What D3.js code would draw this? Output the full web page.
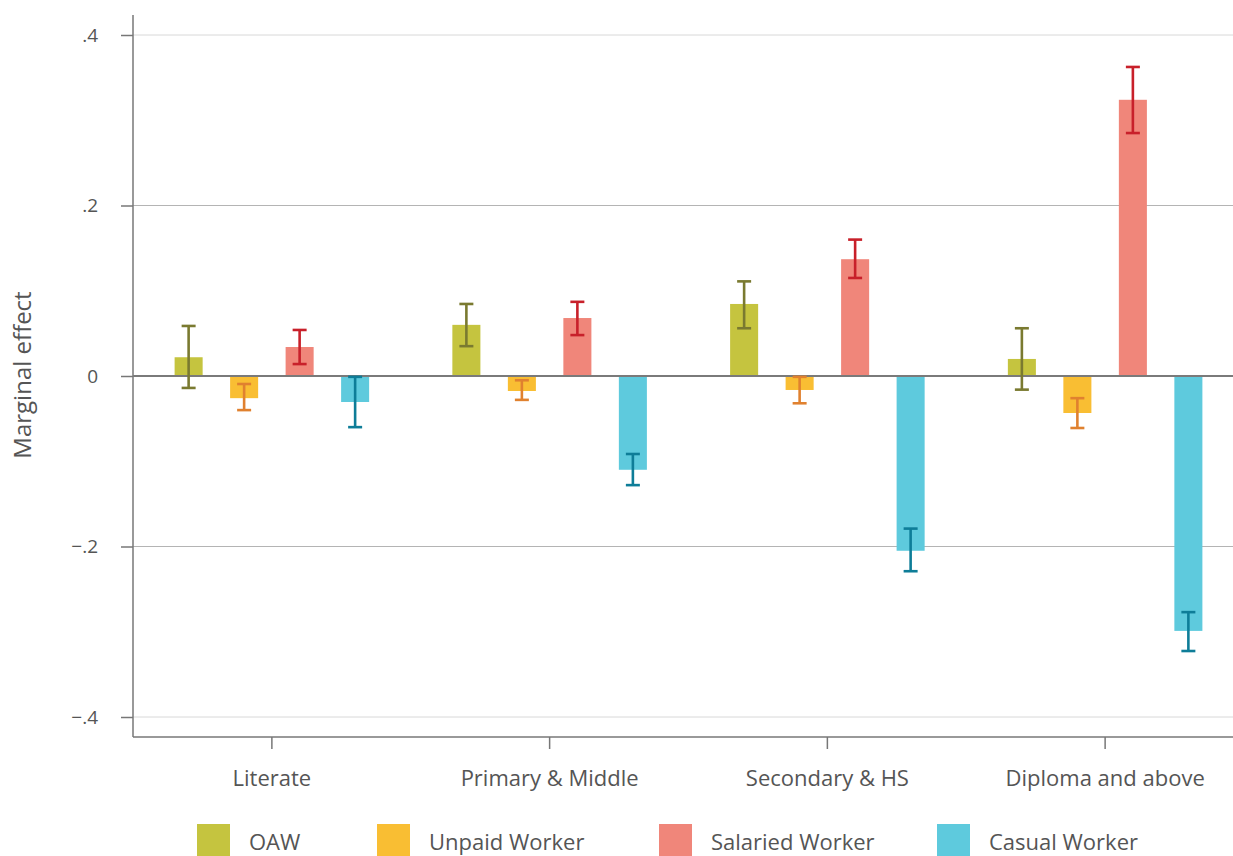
<!DOCTYPE html>
<html>
<head>
<meta charset="utf-8">
<script src="https://cdn.jsdelivr.net/npm/d3@7"></script>
<style>
  html, body { margin: 0; padding: 0; background: #fff; }
  svg { display: block; font-family: "Open Sans", Lato, sans-serif; }
</style>
</head>
<body>
<svg id="chart" width="1233" height="856"></svg>
<script>
// ---- data ----
const categories = ["Literate", "Primary & Middle", "Secondary & HS", "Diploma and above"];
const seriesNames = ["OAW", "Unpaid Worker", "Salaried Worker", "Casual Worker"];
const oawValues      = [0.022, 0.060, 0.0845, 0.020];
const oawLow         = [-0.014, 0.035, 0.056, -0.016];
const oawHigh        = [0.0587, 0.0845, 0.111, 0.056];
const unpaidValues   = [-0.026, -0.0176, -0.0164, -0.0434];
const unpaidLow      = [-0.040, -0.028, -0.032, -0.061];
const unpaidHigh     = [-0.0094, -0.005, -0.001, -0.026];
const salariedValues = [0.034, 0.068, 0.137, 0.324];
const salariedLow    = [0.014, 0.048, 0.115, 0.285];
const salariedHigh   = [0.054, 0.087, 0.160, 0.3625];
const casualValues   = [-0.0305, -0.110, -0.205, -0.299];
const casualLow      = [-0.060, -0.128, -0.229, -0.3226];
const casualHigh     = [-0.001, -0.0915, -0.179, -0.277];
const yTicks = [0.4, 0.2, 0, -0.2, -0.4];
const yTickLabels = [".4", ".2", "0", "\u2212.2", "\u2212.4"];

const barColors = ["#c5c43f", "#f9be33", "#f0867a", "#5ecadd"];
const errColors = ["#7a7a30", "#e0812f", "#c8202a", "#0e7d98"];

const seriesData = [
  [oawValues, oawLow, oawHigh],
  [unpaidValues, unpaidLow, unpaidHigh],
  [salariedValues, salariedLow, salariedHigh],
  [casualValues, casualLow, casualHigh]
];
const rows = [];
categories.forEach((c, ci) => {
  seriesNames.forEach((s, si) => {
    rows.push({cat: c, series: s, si,
      value: seriesData[si][0][ci], lo: seriesData[si][1][ci], hi: seriesData[si][2][ci]});
  });
});

// ---- layout ----
const svg = d3.select("#chart");
const mLeft = 133, mRight = 1244, plotRight = 1233, mTop = 15, mBottom = 737;
const y = d3.scaleLinear().domain([-0.4, 0.4]).range([717, 35]);
const x0 = d3.scaleBand().domain(categories).range([mLeft, mRight]).padding(0);
const groupSpan = 222; // width of 4 slots inside a category
const x1 = d3.scaleBand().domain(seriesNames).range([0, groupSpan]).paddingInner(0.495).paddingOuter(0.2475);
const textColor = "#555";
const fontFam = "'Open Sans', Lato, sans-serif";

// grid lines
svg.append("g").selectAll("line").data(yTicks.filter(d => d !== 0)).join("line")
  .attr("x1", mLeft).attr("x2", plotRight)
  .attr("y1", d => y(d)).attr("y2", d => y(d))
  .attr("stroke", d => Math.abs(d) > 0.3 ? "#d8d8d8" : "#b4b4b4")
  .attr("stroke-width", 1);

// y axis
const yAxis = d3.axisLeft(y).tickValues(yTicks).tickSize(12)
  .tickFormat((d, i) => yTickLabels[i]);
const gy = svg.append("g").attr("transform", `translate(${mLeft},0)`).call(yAxis);
gy.select(".domain").remove();
gy.selectAll(".tick line").attr("stroke", "#777").attr("stroke-width", 1.5);
gy.selectAll(".tick text").attr("fill", textColor).attr("font-size", 19)
  .attr("x", -35).attr("font-family", fontFam);
svg.append("line").attr("x1", mLeft).attr("x2", mLeft).attr("y1", mTop).attr("y2", mBottom)
  .attr("stroke", "#777").attr("stroke-width", 1.5);

// x axis
const xAxis = d3.axisBottom(x0).tickSize(12).tickSizeOuter(0);
const gx = svg.append("g").attr("transform", `translate(0,${mBottom})`).call(xAxis);
gx.select(".domain").remove();
gx.selectAll(".tick line").attr("stroke", "#777").attr("stroke-width", 1.5);
gx.selectAll(".tick text").attr("fill", textColor).attr("font-size", 22)
  .attr("y", 33).attr("font-family", fontFam);
svg.append("line").attr("x1", mLeft).attr("x2", plotRight).attr("y1", mBottom).attr("y2", mBottom)
  .attr("stroke", "#777").attr("stroke-width", 1.5);

// bars
const gOff = (x0.bandwidth() - groupSpan) / 2;
const bx = d => x0(d.cat) + gOff + x1(d.series);
const bw = x1.bandwidth();
svg.append("g").selectAll("rect").data(rows).join("rect")
  .attr("x", bx)
  .attr("width", bw)
  .attr("y", d => y(Math.max(0, d.value)))
  .attr("height", d => Math.abs(y(d.value) - y(0)))
  .attr("fill", d => barColors[d.si]);

// zero line
svg.append("line").attr("x1", mLeft).attr("x2", plotRight).attr("y1", y(0)).attr("y2", y(0))
  .attr("stroke", "#7a7a7a").attr("stroke-width", 2);

// error bars
const eg = svg.append("g").selectAll("g").data(rows).join("g")
  .attr("stroke", d => errColors[d.si]).attr("stroke-width", 2.6);
eg.append("line").attr("x1", d => bx(d) + bw / 2).attr("x2", d => bx(d) + bw / 2)
  .attr("y1", d => y(d.lo)).attr("y2", d => y(d.hi));
eg.append("line").attr("x1", d => bx(d) + bw / 2 - 7).attr("x2", d => bx(d) + bw / 2 + 7)
  .attr("y1", d => y(d.lo)).attr("y2", d => y(d.lo));
eg.append("line").attr("x1", d => bx(d) + bw / 2 - 7).attr("x2", d => bx(d) + bw / 2 + 7)
  .attr("y1", d => y(d.hi)).attr("y2", d => y(d.hi));

// y label
svg.append("text").attr("transform", "translate(31,375) rotate(-90)")
  .attr("text-anchor", "middle").attr("fill", textColor).attr("font-size", 24)
  .attr("font-family", fontFam)
  .text("Marginal effect");

// legend
const legendX = [197, 377, 659, 937];
const lg = svg.append("g").selectAll("g").data(seriesNames).join("g")
  .attr("transform", (d, i) => `translate(${legendX[i]},824)`);
lg.append("rect").attr("width", 33).attr("height", 33).attr("fill", (d, i) => barColors[i]);
lg.append("text").attr("x", 52).attr("y", 26).attr("fill", textColor).attr("font-size", 22)
  .attr("font-family", fontFam)
  .text(d => d);
</script>
</body>
</html>
